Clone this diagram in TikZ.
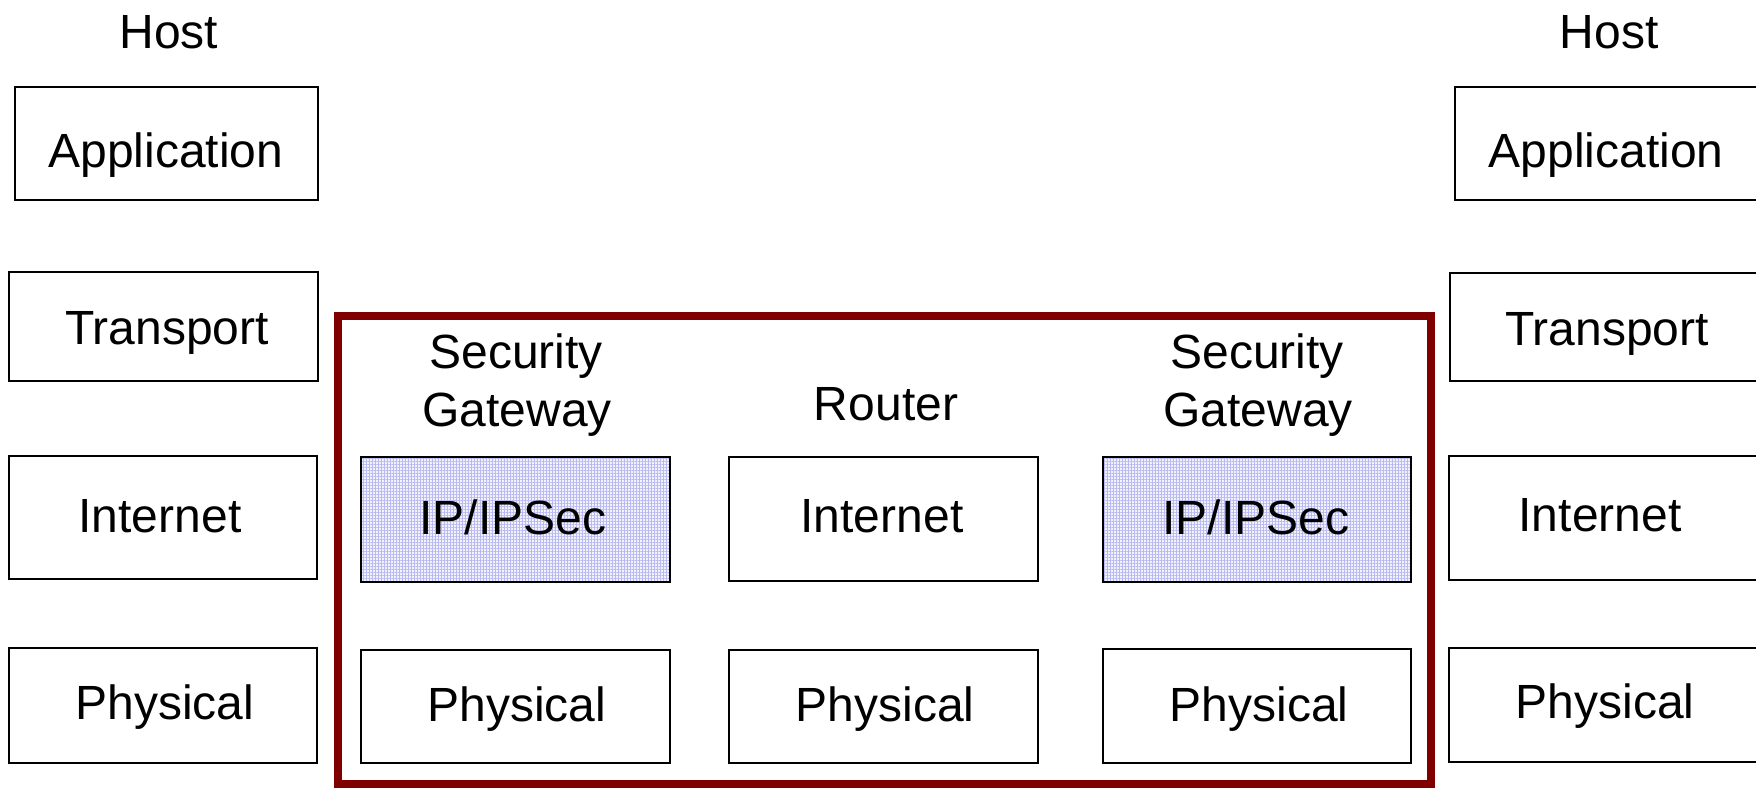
\documentclass[tikz,border=0pt]{standalone}
\usepackage{fontspec}
\setmainfont{Liberation Sans}
\usetikzlibrary{patterns.meta}
\definecolor{frame}{RGB}{128,0,0}
\definecolor{ipsecbg}{RGB}{242,242,253}
\definecolor{ipsecgrid}{RGB}{186,186,242}
\tikzset{
  layer/.style={draw=black, line width=0.8pt, inner sep=0pt},
  ipsec/.style={layer,
    preaction={fill=ipsecbg},
    preaction={pattern={Lines[angle=0,distance=1.5pt,line width=0.2pt]}, pattern color=ipsecgrid},
    preaction={pattern={Lines[angle=90,distance=1.5pt,line width=0.2pt]}, pattern color=ipsecgrid}},
  plain/.style={layer, fill=white},
  lbl/.style={anchor=base, inner sep=0pt, font=\fontsize{24}{28.85}\selectfont},
  netframe/.style={draw=frame, line width=3.75pt}
}
% a layer box given by its corners in pixel units
\newcommand{\layerbox}[6]{%
  \node[#6, minimum width={(#4-#2)*0.5pt}, minimum height={(#5-#3)*0.5pt}]
    (#1) at ({(#2+#4)/2},{(#3+#5)/2}) {};}
\begin{document}
\begin{tikzpicture}[x=0.5pt, y=-0.5pt]
\useasboundingbox (0,0) rectangle (1756,788);
\clip (0,0) rectangle (1756,788);
\fill[white] (0,0) rectangle (1756,788);

% left host stack
\node[lbl] (hostL) at (169,48) {Host};
\layerbox{appL}{15}{87}{318}{200}{plain}
\layerbox{trL}{9}{272}{318}{381}{plain}
\layerbox{inL}{9}{456}{317}{579}{plain}
\layerbox{phL}{9}{648}{317}{763}{plain}
\node[lbl] (appLt) at (166,167) {Application};
\node[lbl] (trLt) at (167,344.5) {Transport};
\node[lbl] (inLt) at (160,532) {Internet};
\node[lbl] (phLt) at (165,719) {Physical};

% right host stack
\node[lbl] (hostR) at (1609,48) {Host};
\layerbox{appR}{1455}{87}{1762}{200}{plain}
\layerbox{trR}{1450}{273}{1764}{381}{plain}
\layerbox{inR}{1449}{456}{1760}{580}{plain}
\layerbox{phR}{1449}{648}{1760}{762}{plain}
\node[lbl] (appRt) at (1606,167.5) {Application};
\node[lbl] (trRt) at (1607,345) {Transport};
\node[lbl] (inRt) at (1600,531.5) {Internet};
\node[lbl] (phRt) at (1605,718.5) {Physical};

% the intermediate network
\draw[netframe] (338,316) rectangle (1431,784);

\node[lbl] (sgL1) at (516,368) {Security};
\node[lbl] (sgL2) at (517,426) {Gateway};
\node[lbl] (rtr) at (886,420) {Router};
\node[lbl] (sgR1) at (1257,368) {Security};
\node[lbl] (sgR2) at (1258,426) {Gateway};

\layerbox{ipsL}{361}{457}{670}{582}{ipsec}
\layerbox{inM}{729}{457}{1038}{581}{plain}
\layerbox{ipsR}{1103}{457}{1411}{582}{ipsec}
\layerbox{phML}{361}{650}{670}{763}{plain}
\layerbox{phM}{729}{650}{1038}{763}{plain}
\layerbox{phMR}{1103}{649}{1411}{763}{plain}

\node[lbl] (ipsLt) at (513,534) {IP/IPSec};
\node[lbl] (inMt) at (882,532) {Internet};
\node[lbl] (ipsRt) at (1256,534) {IP/IPSec};
\node[lbl] (phMLt) at (517,721) {Physical};
\node[lbl] (phMt) at (885,721) {Physical};
\node[lbl] (phMRt) at (1259,721) {Physical};
\end{tikzpicture}
\end{document}
